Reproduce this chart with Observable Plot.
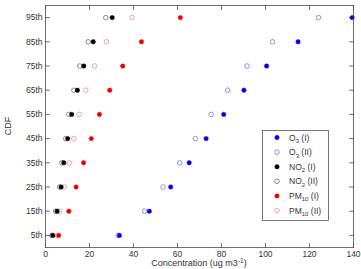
<!DOCTYPE html>
<html>
<head>
<meta charset="utf-8">
<script src="https://cdn.jsdelivr.net/npm/d3@7"></script>
<script src="https://cdn.jsdelivr.net/npm/@observablehq/plot@0.6"></script>
<style>
  body { margin: 0; background: #fff; }
  #chart svg { display: block; }
</style>
</head>
<body>
<div id="chart"></div>
<script>
// CDF percentiles (5th … 95th) and their tick labels
const percentiles = [5, 15, 25, 35, 45, 55, 65, 75, 85, 95];
const cdfLabels = ["5th", "15th", "25th", "35th", "45th", "55th", "65th", "75th", "85th", "95th"];
const xTicks = [0, 20, 40, 60, 80, 100, 120, 140];

// Concentration at each percentile (ug m-3), periods I and II
const o3I   = [33.6, 47.2, 56.9, 65.3, 73.0, 81.0, 90.2, 100.5, 114.8, 139.4];
const o3II  = [33.0, 45.1, 53.4, 61.0, 68.1, 75.3, 82.8, 91.6, 103.2, 124.1];
const no2I  = [3.3, 5.3, 7.1, 8.3, 10.1, 11.9, 14.5, 17.4, 21.7, 30.3];
const no2II = [2.9, 4.6, 6.4, 7.4, 9.2, 10.6, 12.9, 15.6, 19.4, 27.4];
const pm10I = [6.0, 10.6, 13.9, 17.3, 20.8, 24.5, 29.2, 35.1, 43.6, 61.3];
const pm10II = [5.4, 6.4, 8.5, 10.8, 12.9, 15.3, 18.3, 22.3, 27.7, 39.4];

const series = [
  {base: "O", sub: "3", period: "I", values: o3I, color: "#0000ee", filled: true},
  {base: "O", sub: "3", period: "II", values: o3II, color: "#7373f2", filled: false},
  {base: "NO", sub: "2", period: "I", values: no2I, color: "#000000", filled: true},
  {base: "NO", sub: "2", period: "II", values: no2II, color: "#707070", filled: false},
  {base: "PM", sub: "10", period: "I", values: pm10I, color: "#ee0000", filled: true},
  {base: "PM", sub: "10", period: "II", values: pm10II, color: "#f08a96", filled: false}
];

const rows = series.flatMap(s => s.values.map((v, i) => ({
  name: `${s.base}${s.sub} (${s.period})`, x: v, y: percentiles[i], color: s.color, filled: s.filled
})));

const font = "'Liberation Sans', Arial, Helvetica, sans-serif";
const frameColor = "#4a4a4a";

// a plain line segment pointing along the vector direction (used for inward ticks)
const tickShape = {draw(context, l) { context.moveTo(0, 0); context.lineTo(0, -l); }};
const tickStyle = {length: 4, anchor: "start", shape: tickShape, stroke: frameColor, strokeWidth: 0.8};

const plot = Plot.plot({
  width: 361,
  height: 269,
  marginTop: 5,
  marginBottom: 22,
  marginLeft: 45,
  marginRight: 8,
  style: {fontFamily: font, fontSize: "8.5px", color: "#333", background: "#fff"},
  x: {domain: [0, 140]},
  y: {domain: [0, 100]},
  marks: [
    // inward ticks on all four sides
    Plot.vectorX(xTicks, {x: d => d, frameAnchor: "bottom", rotate: 0, ...tickStyle}),
    Plot.vectorX(xTicks, {x: d => d, frameAnchor: "top", rotate: 180, ...tickStyle}),
    Plot.vectorY(percentiles, {y: d => d, frameAnchor: "left", rotate: 90, ...tickStyle}),
    Plot.vectorY(percentiles, {y: d => d, frameAnchor: "right", rotate: -90, ...tickStyle}),
    Plot.axisX(xTicks, {anchor: "bottom", tickSize: 0, tickPadding: 3, label: null, fill: "#333"}),
    Plot.axisY(percentiles, {anchor: "left", tickSize: 0, tickPadding: 3, label: null, fill: "#333",
      tickFormat: d => cdfLabels[percentiles.indexOf(d)]}),
    // open markers first, filled markers on top
    Plot.dot(rows.filter(d => !d.filled), {x: "x", y: "y", r: 2.3, stroke: "color", fill: "none", strokeWidth: 0.8}),
    Plot.dot(rows.filter(d => d.filled), {x: "x", y: "y", r: 2.2, fill: "color", stroke: "color", strokeWidth: 0.5}),
    Plot.frame({stroke: frameColor, strokeWidth: 0.8})
  ]
});

const svg = d3.select(plot);

// axis titles
svg.append("text")
  .attr("transform", "translate(11,126) rotate(-90)")
  .attr("text-anchor", "middle")
  .attr("font-family", font).attr("font-size", 9).attr("fill", "#333")
  .text("CDF");

const xt = svg.append("text")
  .attr("x", 199).attr("y", 266)
  .attr("text-anchor", "middle")
  .attr("font-family", font).attr("font-size", 9).attr("fill", "#333");
xt.append("tspan").text("Concentration (ug m3");
xt.append("tspan").attr("dy", -3.5).attr("font-size", 6.5).text("-1");
xt.append("tspan").attr("dy", 3.5).text(")");

// legend
const lg = svg.append("g").attr("font-family", font).attr("font-size", 8.5).attr("fill", "#333")
  .attr("text-anchor", "start");
lg.append("rect").attr("x", 262.5).attr("y", 130.5).attr("width", 66).attr("height", 90)
  .attr("fill", "#fff").attr("stroke", "#555").attr("stroke-width", 0.8);
series.forEach((s, i) => {
  const cy = 137.5 + i * 14.6;
  lg.append("circle").attr("cx", 277).attr("cy", cy)
    .attr("r", s.filled ? 2.2 : 2.3)
    .attr("fill", s.filled ? s.color : "none")
    .attr("stroke", s.color).attr("stroke-width", s.filled ? 0.5 : 0.8);
  const t = lg.append("text").attr("x", 289).attr("y", cy + 3).attr("text-anchor", "start");
  t.append("tspan").text(s.base);
  t.append("tspan").attr("dy", 2.5).attr("font-size", 6).text(s.sub);
  t.append("tspan").attr("dy", -2.5).text(` (${s.period})`);
});

document.getElementById("chart").append(plot);
</script>
</body>
</html>
